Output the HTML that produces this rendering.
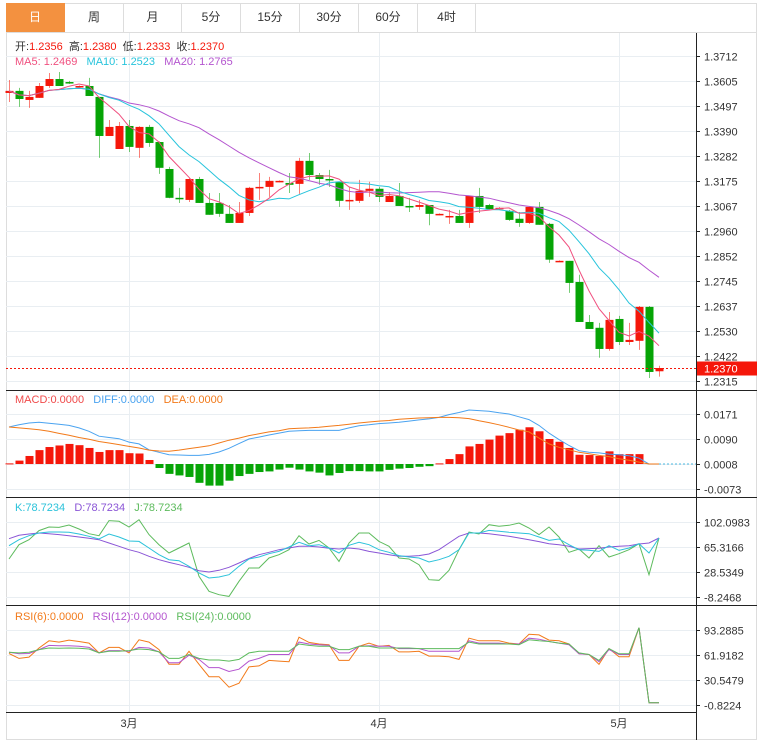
<!DOCTYPE html>
<html><head><meta charset="utf-8">
<style>
body{margin:0;background:#fff;font-family:"Liberation Sans","Noto Sans CJK SC",sans-serif;}
#wrap{position:relative;width:764px;height:750px;overflow:hidden;background:#fff}
.tab{position:absolute;top:3px;height:29px;line-height:29px;text-align:center;font-size:12px;color:#333;border-right:1px solid #ddd;box-sizing:border-box}
svg text{font-family:"Liberation Sans","Noto Sans CJK SC",sans-serif;}
</style></head><body>
<div id="wrap">
<div style="position:absolute;left:6px;top:3px;width:751px;height:737px;border:1px solid #ddd;box-sizing:border-box"></div>
<div class="tab" style="left:6px;width:59px;background:#f39140;color:#fff;border-color:#f39140">日</div>
<div class="tab" style="left:65px;width:59px">周</div>
<div class="tab" style="left:124px;width:58px">月</div>
<div class="tab" style="left:182px;width:59px">5分</div>
<div class="tab" style="left:241px;width:59px">15分</div>
<div class="tab" style="left:300px;width:59px">30分</div>
<div class="tab" style="left:359px;width:59px">60分</div>
<div class="tab" style="left:418px;width:58px">4时</div>
<div style="position:absolute;left:6px;top:32px;width:751px;height:1px;background:#ddd"></div>
<svg id="c" width="764" height="750" style="position:absolute;left:0;top:0"></svg>
</div>
<script>
const opens=[1.3553,1.3562,1.3523,1.3532,1.3583,1.3613,1.3600,1.3581,1.3583,1.3536,1.3368,1.3312,1.3411,1.3317,1.3407,1.3342,1.3226,1.3102,1.3093,1.3183,1.3080,1.3080,1.3033,1.2994,1.3037,1.3145,1.3149,1.3171,1.3166,1.3162,1.3261,1.3200,1.3183,1.3171,1.3091,1.3089,1.3132,1.3141,1.3084,1.3110,1.3067,1.3063,1.3071,1.3029,1.3020,1.3024,1.2994,1.3110,1.3071,1.3054,1.3046,1.3012,1.2994,1.3063,1.2990,1.2829,1.2831,1.2740,1.2568,1.2543,1.2452,1.2581,1.2482,1.2487,1.2633,1.2356];
const highs=[1.3609,1.3575,1.3562,1.3596,1.3639,1.3643,1.3605,1.3585,1.3618,1.3536,1.3437,1.3428,1.3437,1.3410,1.3416,1.3345,1.3235,1.3145,1.3185,1.3192,1.3123,1.3123,1.3071,1.3084,1.3149,1.3209,1.3192,1.3177,1.3209,1.3274,1.3295,1.3209,1.3222,1.3171,1.3149,1.3179,1.3171,1.3149,1.3127,1.3166,1.3102,1.3093,1.3071,1.3035,1.3050,1.3050,1.3110,1.3145,1.3076,1.3062,1.3050,1.3041,1.3067,1.3084,1.2994,1.2833,1.2831,1.2771,1.2598,1.2564,1.2611,1.2594,1.2564,1.2637,1.2637,1.2380];
const lows=[1.3514,1.3493,1.3489,1.3532,1.3575,1.3583,1.3592,1.3579,1.3540,1.3274,1.3368,1.3312,1.3299,1.3274,1.3321,1.3205,1.3100,1.3080,1.3084,1.3080,1.3029,1.3020,1.2994,1.2994,1.3024,1.3093,1.3106,1.3169,1.3123,1.3119,1.3179,1.3158,1.3149,1.3063,1.3050,1.3080,1.3106,1.3084,1.3084,1.3067,1.3041,1.3050,1.2984,1.3027,1.2990,1.2994,1.2973,1.3037,1.3050,1.3051,1.3003,1.2977,1.2990,1.2986,1.2822,1.2827,1.2693,1.2568,1.2538,1.2414,1.2444,1.2469,1.2469,1.2448,1.2327,1.2333];
const closes=[1.3562,1.3527,1.3536,1.3583,1.3613,1.3583,1.3596,1.3583,1.3540,1.3368,1.3407,1.3411,1.3321,1.3407,1.3338,1.3231,1.3102,1.3097,1.3183,1.3080,1.3029,1.3033,1.2994,1.3037,1.3145,1.3149,1.3175,1.3175,1.3158,1.3261,1.3200,1.3183,1.3179,1.3089,1.3093,1.3132,1.3141,1.3106,1.3110,1.3067,1.3063,1.3071,1.3033,1.3033,1.3024,1.2994,1.3110,1.3063,1.3054,1.3059,1.3007,1.2994,1.3063,1.2986,1.2836,1.2831,1.2736,1.2568,1.2538,1.2452,1.2577,1.2482,1.2491,1.2633,1.2353,1.2370];
const priceTicks=[1.3712,1.3605,1.3497,1.3390,1.3282,1.3175,1.3067,1.2960,1.2852,1.2745,1.2637,1.2530,1.2422,1.2315];
const monthLabels=["3月","4月","5月"];
const monthIdx=[12,37,61];
const maLegendVals=[1.2469,1.2523,1.2765];
// MACD in units of 0.0001
const macdHist=[2,11,26,45,55,60,65,61,52,39,45,45,35,34,13,-13,-32,-37,-42,-61,-70,-70,-54,-39,-32,-26,-24,-18,-12,-18,-24,-28,-37,-29,-23,-23,-24,-24,-19,-15,-13,-9,-7,2,16,32,57,65,79,92,100,111,119,106,81,72,52,30,29,26,41,32,32,32,0,0];
const diffVals=[120,127,133,135,132,129,125,117,106,90,86,82,71,65,46,38,30,29,28,28,31,39,51,66,81,87,94,100,106,108,109,109,109,109,117,124,127,131,133,135,139,143,146,151,160,167,175,173,171,166,162,153,144,125,100,79,60,43,38,36,32,30,27,19,0,0];
const deaVals=[120,117,114,111,106,99,93,86,80,73,68,63,57,52,45,42,41,45,50,54,59,68,77,84,92,98,104,108,114,116,117,119,122,125,129,133,136,139,141,145,147,149,150,151,151,150,147,140,134,127,119,110,104,84,65,54,46,38,33,28,24,17,12,6,0,0];
const macdTicks=[171,90,8,-73];
const kVals=[67.3,76.1,82.0,85.9,87.4,87.4,86.9,84.4,81.0,77.1,84.4,80.0,74.1,73.6,63.8,54.0,46.7,45.2,36.9,27.1,19.7,21.2,24.6,36.9,47.6,50.6,55.5,58.9,65.3,72.2,67.3,68.7,63.8,56.5,67.8,72.2,68.7,61.4,57.5,52.6,50.6,49.1,43.2,46.7,51.6,61.4,85.9,85.9,89.8,88.4,86.9,85.9,84.9,80.0,75.1,77.1,68.7,61.4,60.4,58.9,67.3,60.4,63.8,70.2,56.5,78.6];
const dVals=[77.6,82.5,84.4,85.9,84.9,83.5,82.0,80.0,78.1,76.1,71.2,66.3,61.4,57.5,51.6,46.7,42.7,39.3,35.4,30.5,28.5,31.0,35.4,41.8,48.6,54.0,57.5,61.4,63.8,66.3,66.3,65.3,63.4,62.4,63.8,62.4,58.9,56.5,54.0,51.6,51.6,52.6,55.0,61.4,71.2,81.0,85.9,85.9,84.9,83.0,81.0,78.6,76.1,73.2,70.2,68.7,66.3,62.4,62.9,63.4,65.3,66.3,67.3,69.7,71.2,78.6];
const jVals=[47.7,68.7,76.1,89.4,94.7,94.2,97.7,91.8,84.9,82.0,104.1,103.1,94.7,105.5,83.5,68.7,56.5,63.8,71.2,22.2,0.1,-4.8,-7.3,14.8,34.4,34.4,49.1,54.0,61.4,82.0,69.7,75.1,63.8,44.2,71.2,85.9,85.9,73.6,66.3,49.1,47.7,39.3,17.2,16.3,31.0,61.4,87.4,84.4,98.2,95.7,97.2,100.6,93.3,83.5,94.7,80.0,57.5,62.4,49.1,67.3,50.6,55.5,61.4,70.2,24.6,78.6];
const kdjTicks=[102.0983,65.3166,28.5349,-8.2468];
const rsi6=[63.8,57.6,59.3,70.7,79.7,78.1,80.6,78.9,76.9,64.6,71.5,71.5,64.6,81.0,78.1,68.7,50.2,50.2,66.6,50.2,34.7,34.7,21.5,26.5,47.0,48.2,55.2,54.3,53.5,84.3,77.7,75.7,74.8,55.2,55.2,72.8,76.9,72.8,74.0,65.8,65.8,66.6,60.5,60.5,59.7,56.4,83.0,79.7,79.7,79.7,76.9,75.7,87.9,87.1,80.6,79.7,75.7,63.4,62.5,50.2,69.9,59.7,59.7,96.2,1.9,1.9];
const rsi12=[65.4,63.4,63.8,68.7,74.0,73.6,73.6,72.8,71.5,64.6,67.4,67.4,66.6,71.5,70.7,65.8,52.3,52.3,61.7,56.4,46.1,46.1,41.2,44.1,54.3,57.6,62.5,62.5,62.5,78.1,75.7,74.8,74.0,64.6,64.6,72.8,73.6,72.8,72.8,69.9,69.9,69.9,66.6,66.6,66.6,66.6,79.7,76.9,76.9,76.9,75.7,75.7,83.0,81.8,78.9,76.9,74.8,63.4,62.5,53.5,68.7,62.5,62.5,96.2,1.9,1.9];
const rsi24=[65.4,64.6,65.4,68.7,70.7,70.3,70.7,70.3,69.5,64.6,66.6,66.6,67.4,69.5,68.7,65.8,57.6,57.6,62.5,57.6,55.6,55.6,54.3,56.4,64.6,66.6,66.6,66.6,66.6,75.7,74.0,72.8,72.8,68.7,68.7,72.8,72.8,70.7,70.7,70.7,70.7,69.9,69.9,69.9,69.9,69.9,78.1,75.7,75.7,75.7,75.7,74.8,81.0,79.7,78.9,76.9,75.7,64.6,62.5,55.2,69.9,63.4,63.4,96.2,1.9,1.9];
const rsiTicks=[93.2885,61.9182,30.5479,-0.8224];

const NS="http://www.w3.org/2000/svg";
const svg=document.getElementById('c');
function mk(tag,attrs,parent){const e=document.createElementNS(NS,tag);for(const k in attrs)e.setAttribute(k,attrs[k]);(parent||svg).appendChild(e);return e;}
const X0=9,DX=10,AX=696;
const xOf=i=>X0+i*DX;
const yMain=p=>56+(1.3712-p)*2325;
const yMacd=v=>464-(v-8)/3.24;
const yKdj=v=>522+(102.0983-v)/1.471;
const yRsi=v=>630+(93.2885-v)/1.2548;
const fmt=v=>v.toFixed(4);

function hline(y,color,name,x2){const l=mk('line',{x1:6,x2:x2||AX,y1:y,y2:y,stroke:color,'stroke-width':1});

}
priceTicks.forEach(t=>hline(Math.round(yMain(t))+0.5,'#e9eef2','price-gridline'));
macdTicks.forEach(t=>hline(Math.round(yMacd(t))+0.5,'#e9eef2','macd-gridline'));
kdjTicks.forEach(t=>hline(Math.round(yKdj(t))+0.5,'#e9eef2','kdj-gridline'));
rsiTicks.forEach(t=>hline(Math.round(yRsi(t))+0.5,'#e9eef2','rsi-gridline'));
monthIdx.forEach(i=>{const l=mk('line',{x1:xOf(i)+0.5,x2:xOf(i)+0.5,y1:33,y2:712,stroke:'#e9eef2'});

});
[390.5,497.5,605.5].forEach(y=>hline(y,'#222','panel-divider',757));
hline(712.5,'#222','time-axis-line',AX);
{const l=mk('line',{x1:AX+0.5,x2:AX+0.5,y1:33,y2:740,stroke:'#222'});

}

function axisLabels(ticks,yf,name,f){ticks.forEach(t=>{const y=Math.round(yf(t))+0.5;
mk('line',{x1:AX,x2:AX+4,y1:y,y2:y,stroke:'#222'});
const tx=mk('text',{x:AX+8,y:y+4,'font-size':11,fill:'#333'});tx.textContent=f(t);

});}
axisLabels(priceTicks,yMain,'price-tick-label',fmt);
axisLabels(macdTicks,yMacd,'macd-tick-label',t=>(t/10000).toFixed(4));
axisLabels(kdjTicks,yKdj,'kdj-tick-label',fmt);
axisLabels(rsiTicks,yRsi,'rsi-tick-label',fmt);
monthIdx.forEach((i,k)=>{const tx=mk('text',{x:xOf(i),y:727,'font-size':11,fill:'#333','text-anchor':'middle'});tx.textContent=monthLabels[k];

});

function ma(n){return closes.map((c,i)=>{const s=closes.slice(Math.max(0,i-n+1),i+1);return s.reduce((a,b)=>a+b,0)/s.length;});}
function poly(vals,yf,color,name,w){const pts=vals.map((v,i)=>xOf(i)+','+yf(v).toFixed(1)).join(' ');
const p=mk('polyline',{points:pts,fill:'none',stroke:color,'stroke-width':w||1});

}

const UP='#f5170a',DN='#06a406';
closes.forEach((c,i)=>{const o=opens[i],up=c>=o,col=up?UP:DN,x=xOf(i);
const g=mk('g',{});


mk('line',{x1:x+0.5,x2:x+0.5,y1:yMain(highs[i]),y2:yMain(lows[i]),stroke:col,'stroke-opacity':0.55},g);
const t=yMain(Math.max(o,c)),b=yMain(Math.min(o,c));
mk('rect',{x:x-3.5,y:t,width:8,height:Math.max(1.5,b-t),fill:col},g);});
poly(ma(20),yMain,'#b455cf','ma20-line');
poly(ma(10),yMain,'#27c4dc','ma10-line');
poly(ma(5),yMain,'#f0507f','ma5-line');

const lp=closes[closes.length-1],ly=Math.round(yMain(lp))+0.5;
{const l=mk('line',{x1:6,x2:AX,y1:ly,y2:ly,stroke:'#f5170a','stroke-dasharray':'2,2'});


const r=mk('rect',{x:AX+1,y:ly-7,width:60,height:14,fill:'#f5170a'});


const tx=mk('text',{x:AX+8,y:ly+4,'font-size':11,fill:'#fff'});tx.textContent=fmt(lp);

}

macdHist.forEach((v,i)=>{if(v===0)return;const y0=yMacd(8),y1=yMacd(v+8);
const r=mk('rect',{x:xOf(i)-3.5,y:Math.min(y0,y1),width:8,height:Math.max(1,Math.abs(y1-y0)),fill:v>0?UP:DN});

});
poly(diffVals.map(v=>v+8),yMacd,'#4aa3f0','diff-line');
poly(deaVals.map(v=>v+8),yMacd,'#f27a1a','dea-line');
{const l=mk('line',{x1:xOf(65),x2:AX,y1:yMacd(8),y2:yMacd(8),stroke:'#4ab8e0','stroke-dasharray':'2,2'});

}
poly(jVals,yKdj,'#5dbb5d','j-line');
poly(dVals,yKdj,'#8a55d6','d-line');
poly(kVals,yKdj,'#2bc2da','k-line');
poly(rsi6,yRsi,'#f27a1a','rsi6-line');
poly(rsi12,yRsi,'#b455cf','rsi12-line');
poly(rsi24,yRsi,'#5dbb5d','rsi24-line');

function legend(y,items,name){const g=mk('text',{x:15,y:y,'font-size':11});


items.forEach(([t,c])=>{const s=mk('tspan',{fill:c,style:'white-space:pre'},g);s.textContent=t;});}
legend(50,[['开:','#333'],[opens[65].toFixed(4),UP],['  高:','#333'],[highs[65].toFixed(4),UP],['  低:','#333'],[lows[65].toFixed(4),UP],['  收:','#333'],[closes[65].toFixed(4),UP]],'ohlc-legend');
legend(65,[['MA5: '+maLegendVals[0].toFixed(4),'#f0507f'],['   MA10: '+maLegendVals[1].toFixed(4),'#27c4dc'],['   MA20: '+maLegendVals[2].toFixed(4),'#b455cf']],'ma-legend');
legend(403,[['MACD:0.0000','#f04a4a'],['   DIFF:0.0000','#4aa3f0'],['   DEA:0.0000','#f27a1a']],'macd-legend');
legend(511,[['K:78.7234','#2bc2da'],['   D:78.7234','#8a55d6'],['   J:78.7234','#5dbb5d']],'kdj-legend');
legend(620,[['RSI(6):0.0000','#f27a1a'],['   RSI(12):0.0000','#b455cf'],['   RSI(24):0.0000','#5dbb5d']],'rsi-legend');
</script>
</body></html>
